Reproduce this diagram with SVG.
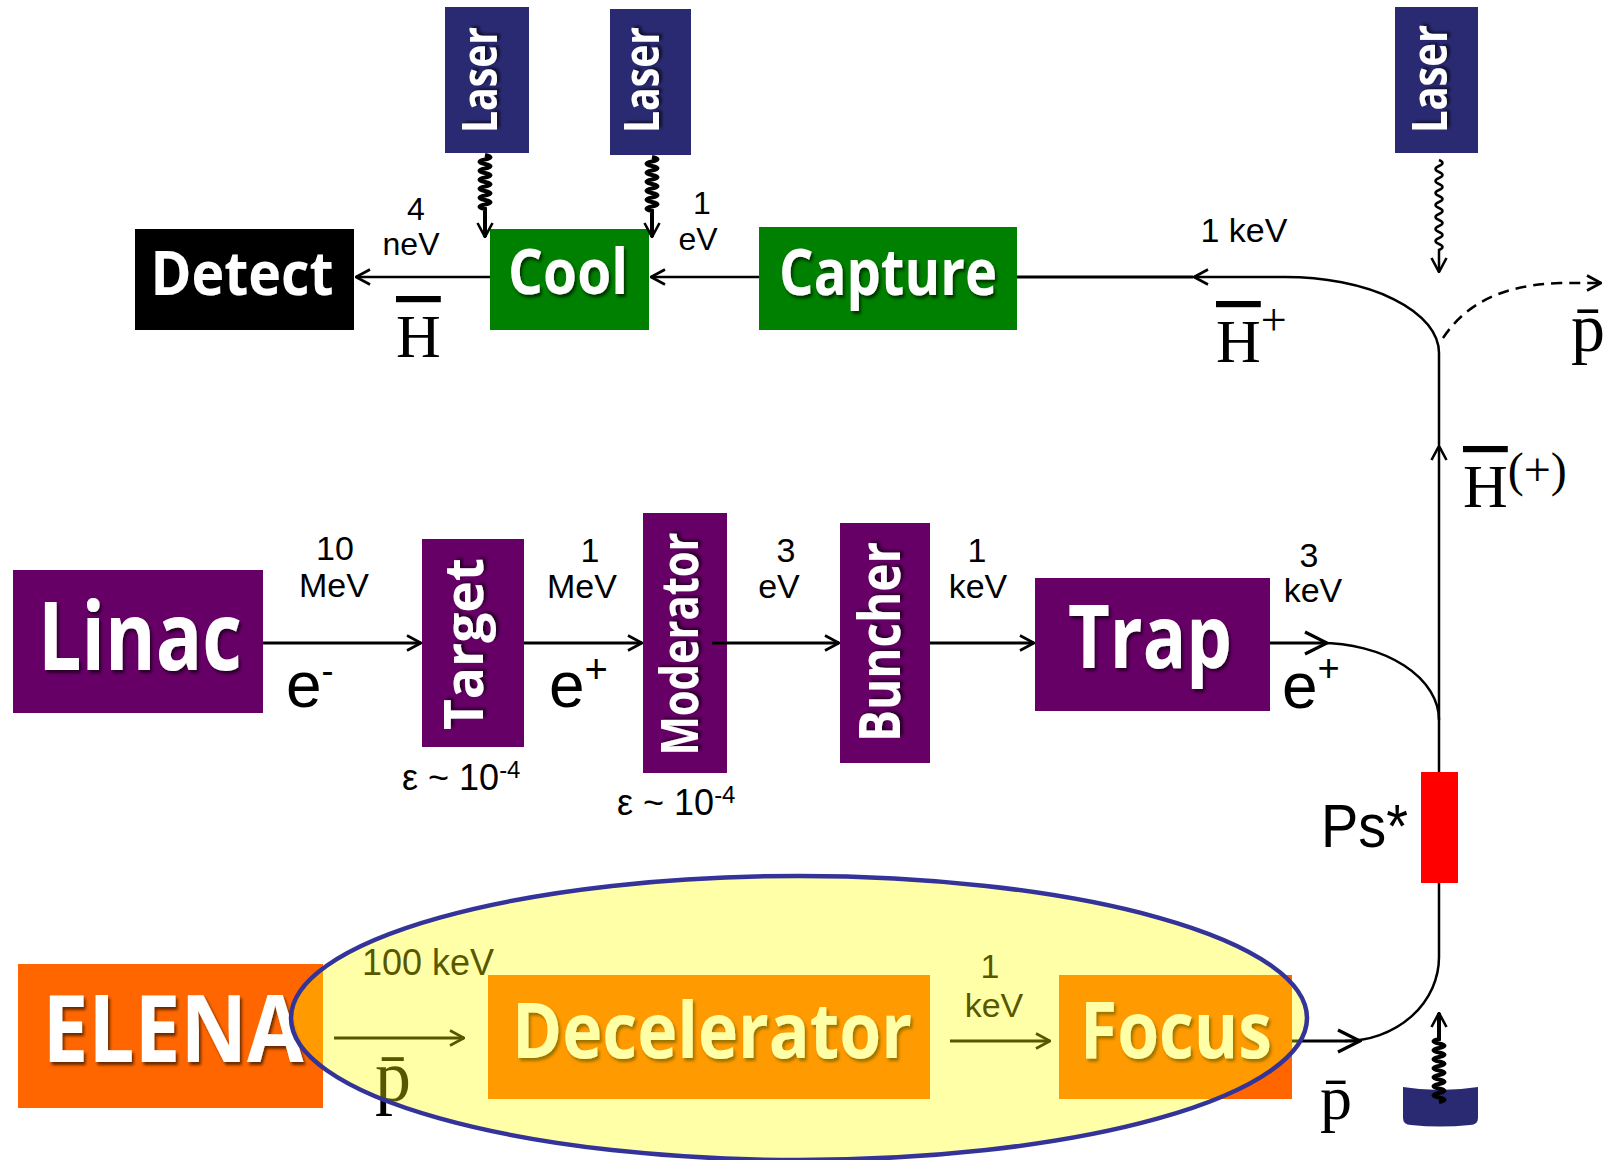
<svg xmlns="http://www.w3.org/2000/svg" width="1614" height="1160" viewBox="0 0 1614 1160">
<defs>
<style>
.nt{font-family:"Open Sans","DejaVu Sans",sans-serif;font-weight:700;fill:#fff;text-anchor:middle;filter:url(#sh)}
.lb{font-family:"Liberation Sans",Arial,sans-serif;fill:#000;text-anchor:middle}
.ls{font-family:"Liberation Sans",Arial,sans-serif;fill:#000}
.sy{font-family:"Liberation Serif","Times New Roman",serif;fill:#000}
.ln{fill:none;stroke:#000;stroke-width:2.5}
.lt{fill:none;stroke:#000;stroke-width:3.2}
.sq{fill:none;stroke:#000;stroke-width:4}
.laser{fill:#2A2A72}
.pur{fill:#660066}
.grn{fill:#008000}
.org{fill:#FF6600}
</style>
<filter id="sh" x="-10%" y="-15%" width="125%" height="140%">
<feDropShadow dx="2" dy="3" stdDeviation="1.5" flood-color="#000" flood-opacity="0.6"/>
</filter>
<marker id="a" markerUnits="userSpaceOnUse" viewBox="0 0 16 18" refX="15" refY="9" markerWidth="16" markerHeight="18" orient="auto">
<path d="M1,1.5 L15,9 L1,16.5" fill="none" stroke="#000" stroke-width="2.6"/>
</marker>
<marker id="b" markerUnits="userSpaceOnUse" viewBox="0 0 26 26" refX="24" refY="13" markerWidth="26" markerHeight="26" orient="auto">
<path d="M2,2 L24,13 L2,24" fill="none" stroke="#000" stroke-width="3.2"/>
</marker>
</defs>
<rect width="1614" height="1160" fill="#fff"/>

<g id="laser1"><rect class="laser" x="445" y="7" width="84" height="146"/><text class="nt" transform="translate(497,80) rotate(-90)" font-size="48" textLength="106" lengthAdjust="spacingAndGlyphs">Laser</text></g>
<g id="laser2"><rect class="laser" x="610" y="9" width="81" height="146"/><text class="nt" transform="translate(659,80) rotate(-90)" font-size="48" textLength="106" lengthAdjust="spacingAndGlyphs">Laser</text></g>
<g id="laser3"><rect class="laser" x="1395" y="7" width="83" height="146"/><text class="nt" transform="translate(1447,79) rotate(-90)" font-size="48" textLength="108" lengthAdjust="spacingAndGlyphs">Laser</text></g>

<g id="detect"><rect x="135" y="229" width="219" height="101" fill="#000"/><text class="nt" x="242" y="295" font-size="60" textLength="183" lengthAdjust="spacingAndGlyphs">Detect</text></g>
<g id="cool"><rect class="grn" x="490" y="229" width="159" height="101"/><text class="nt" x="568" y="294" font-size="63" textLength="120" lengthAdjust="spacingAndGlyphs">Cool</text></g>
<g id="capture"><rect class="grn" x="759" y="227" width="258" height="103"/><text class="nt" x="888" y="295" font-size="65" textLength="218" lengthAdjust="spacingAndGlyphs">Capture</text></g>

<g id="linac"><rect class="pur" x="13" y="570" width="250" height="143"/><text class="nt" x="140" y="670" font-size="95" textLength="204" lengthAdjust="spacingAndGlyphs">Linac</text></g>
<g id="target"><rect class="pur" x="422" y="539" width="102" height="208"/><text class="nt" transform="translate(483,644) rotate(-90)" font-size="53" textLength="172" lengthAdjust="spacingAndGlyphs">Target</text></g>
<g id="moderator"><rect class="pur" x="643" y="513" width="84" height="260"/><text class="nt" transform="translate(698,644) rotate(-90)" font-size="52" textLength="223" lengthAdjust="spacingAndGlyphs">Moderator</text></g>
<g id="buncher"><rect class="pur" x="840" y="523" width="90" height="240"/><text class="nt" transform="translate(900,642) rotate(-90)" font-size="58" textLength="200" lengthAdjust="spacingAndGlyphs">Buncher</text></g>
<g id="trap"><rect class="pur" x="1035" y="578" width="235" height="133"/><text class="nt" x="1150" y="668" font-size="87" textLength="164" lengthAdjust="spacingAndGlyphs">Trap</text></g>
<g id="ps"><rect x="1421" y="772" width="37" height="111" fill="#FF0000"/><text class="ls" x="1321" y="847" font-size="61" textLength="87" lengthAdjust="spacingAndGlyphs">Ps*</text></g>

<g id="elena"><rect class="org" x="18" y="964" width="305" height="144"/><text class="nt" x="173" y="1062" font-size="94" textLength="261" lengthAdjust="spacingAndGlyphs">ELENA</text></g>
<g id="decelerator"><rect class="org" x="488" y="975" width="442" height="124"/><text class="nt" x="712" y="1058" font-size="77" textLength="400" lengthAdjust="spacingAndGlyphs">Decelerator</text></g>
<g id="focus"><rect class="org" x="1059" y="975" width="233" height="124"/><text class="nt" x="1176" y="1058" font-size="78" textLength="192" lengthAdjust="spacingAndGlyphs">Focus</text></g>

<g id="detector"><path d="M1403,1087 Q1440,1093 1478,1087 L1478,1118 Q1478,1125 1470,1125 Q1440,1128 1411,1125 Q1403,1125 1403,1118 Z" fill="#2A2A72"/></g>

<g id="connectors">
<path class="ln" d="M490,277 L356,277" marker-end="url(#a)"/>
<path class="ln" d="M759,277 L651,277" marker-end="url(#a)"/>
<path class="lt" d="M1193,277 L1017,277"/>
<path class="ln" d="M1439,445 L1439,353 A154,76 0 0 0 1285,277 L1194,277" marker-end="url(#a)"/>
<path class="ln" d="M1439,772 L1439,446" marker-end="url(#a)"/>
<path class="ln" d="M1443,338 C1465,305 1500,285 1560,283 L1601,283" stroke-dasharray="11,7" marker-end="url(#a)"/>
<path class="lt" d="M263,643 L421,643" marker-end="url(#a)"/>
<path class="lt" d="M524,643 L642,643" marker-end="url(#a)"/>
<path class="lt" d="M712,643 L839,643" marker-end="url(#a)"/>
<path class="lt" d="M930,643 L1034,643" marker-end="url(#a)"/>
<path class="lt" d="M1270,643 L1327,643" marker-end="url(#b)"/>
<path class="ln" d="M1320,643 A119,77 0 0 1 1439,720"/>
<path class="lt" d="M334,1038 L464,1038" marker-end="url(#a)"/>
<path class="lt" d="M950,1041 L1050,1041" marker-end="url(#a)"/>
<path class="lt" d="M1292,1041 L1360,1041" marker-end="url(#b)"/>
<path class="ln" d="M1345,1041 A94,84 0 0 0 1439,957 L1439,883"/>
<path class="sq" d="M485,155 q11,2.25 0,4.5 t0,4.5 t0,4.5 t0,4.5 t0,4.5 t0,4.5 t0,4.5 t0,4.5 t0,4.5 t0,4.5 t0,4.5 t0,4.5 l0,28" marker-end="url(#a)"/>
<path class="sq" d="M652,157 q11,2.25 0,4.5 t0,4.5 t0,4.5 t0,4.5 t0,4.5 t0,4.5 t0,4.5 t0,4.5 t0,4.5 t0,4.5 t0,4.5 t0,4.5 l0,26" marker-end="url(#a)"/>
<path class="ln" d="M1439,160 q7,3 0,6 t0,6 t0,6 t0,6 t0,6 t0,6 t0,6 t0,6 t0,6 t0,6 t0,6 t0,6 t0,6 t0,6 t0,6 l0,22" marker-end="url(#a)"/>
<path class="sq" d="M1439,1102 q11,-2.25 0,-4.5 t0,-4.5 t0,-4.5 t0,-4.5 t0,-4.5 t0,-4.5 t0,-4.5 t0,-4.5 t0,-4.5 t0,-4.5 t0,-4.5 t0,-4.5 t0,-4.5 t0,-4.5 l0,-26" marker-end="url(#a)"/>
</g>

<g id="labels">
<text class="lb" x="416" y="220" font-size="32">4</text>
<text class="lb" x="411" y="255" font-size="32">neV</text>
<text class="lb" x="702" y="214" font-size="32">1</text>
<text class="lb" x="698" y="250" font-size="32">eV</text>
<text class="lb" x="1244" y="242" font-size="34">1 keV</text>
<text class="sy" x="396" y="357" font-size="62" text-decoration="overline">H</text>
<text class="sy" x="1216" y="362" font-size="62"><tspan text-decoration="overline">H</tspan><tspan font-size="46" dy="-27">+</tspan></text>
<text class="sy" x="1571" y="351" font-size="68">p&#x304;</text>
<text class="sy" x="1463" y="507" font-size="62"><tspan text-decoration="overline">H</tspan><tspan font-size="48" dy="-21">(+)</tspan></text>

<text class="lb" x="335" y="560" font-size="34">10</text>
<text class="lb" x="334" y="597" font-size="34">MeV</text>
<text class="lb" x="590" y="562" font-size="34">1</text>
<text class="lb" x="582" y="598" font-size="34">MeV</text>
<text class="lb" x="786" y="562" font-size="34">3</text>
<text class="lb" x="779" y="598" font-size="34">eV</text>
<text class="lb" x="977" y="562" font-size="34">1</text>
<text class="lb" x="978" y="598" font-size="34">keV</text>
<text class="lb" x="1309" y="567" font-size="34">3</text>
<text class="lb" x="1313" y="602" font-size="34">keV</text>
<text class="ls" x="286" y="707" font-size="64">e<tspan font-size="36" dy="-24">-</tspan></text>
<text class="ls" x="549" y="707" font-size="64">e<tspan font-size="40" dy="-24">+</tspan></text>
<text class="ls" x="1282" y="708" font-size="64">e<tspan font-size="38" dy="-27">+</tspan></text>
<text class="ls" x="402" y="790" font-size="36">ε ~ 10<tspan font-size="24" dy="-12">-4</tspan></text>
<text class="ls" x="617" y="815" font-size="36">ε ~ 10<tspan font-size="24" dy="-12">-4</tspan></text>

<text class="ls" x="362" y="975" font-size="36">100 keV</text>
<text class="lb" x="990" y="978" font-size="34">1</text>
<text class="lb" x="994" y="1017" font-size="34">keV</text>
<text class="sy" x="375" y="1101" font-size="72">p&#x304;</text>
<text class="sy" x="1320" y="1119" font-size="64">p&#x304;</text>
</g>

<g id="highlight">
<ellipse cx="799" cy="1018" rx="508" ry="142" fill="#FFFF00" fill-opacity="0.34" stroke="#333399" stroke-width="4.5"/>
</g>
</svg>
